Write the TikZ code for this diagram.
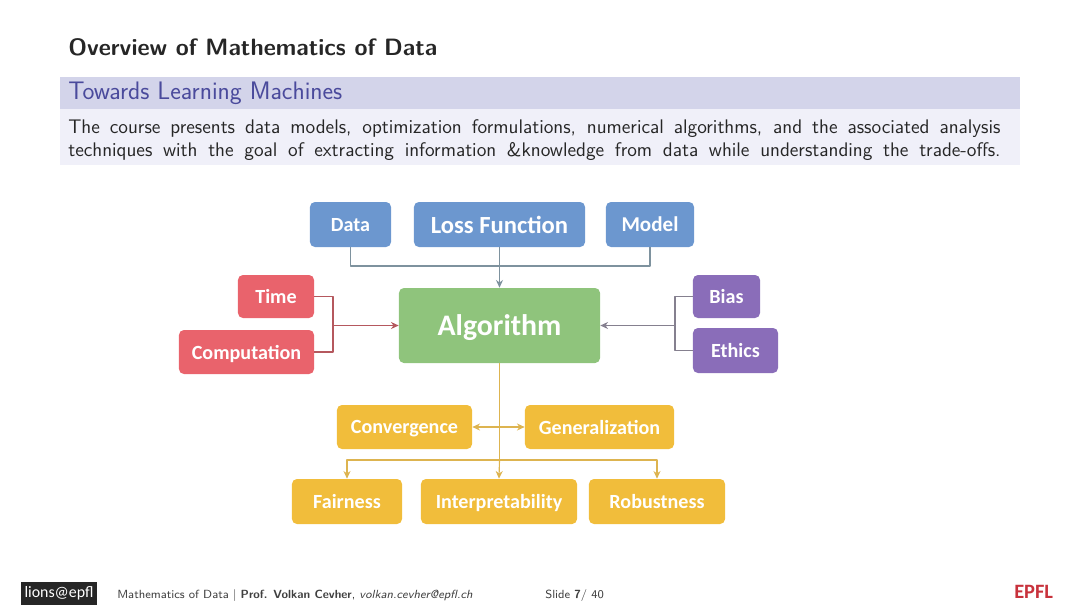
\documentclass[tikz,border=0pt]{standalone}
\usepackage{fontspec}
\usepackage{xcolor}
\usepackage{tikz}
\usetikzlibrary{arrows.meta}
\newfontfamily\boxfont{Carlito}
\definecolor{lossblue}{HTML}{6C97CF}
\definecolor{algogreen}{HTML}{8FC47C}
\definecolor{timered}{HTML}{E9636C}
\definecolor{biaspurple}{HTML}{8A6DB9}
\definecolor{goalorange}{HTML}{F1BD3B}
\definecolor{bandtop}{HTML}{D3D4EA}
\definecolor{bandbody}{HTML}{F0F0F9}
\definecolor{bandtext}{HTML}{4A4A9C}
\definecolor{lineblue}{HTML}{7E929E}
\definecolor{linered}{HTML}{B5585E}
\definecolor{linegray}{HTML}{85808F}
\definecolor{lineorange}{HTML}{DDB450}
\definecolor{epflred}{HTML}{C8323C}
\tikzset{
    tile/.style={rounded corners=3.5pt, text=white, inner sep=0pt, text depth=0pt, font=\boxfont\bfseries\fontsize{14.3}{16}\selectfont},
    datatile/.style={tile, fill=lossblue},
    timetile/.style={tile, fill=timered},
    biastile/.style={tile, fill=biaspurple},
    goaltile/.style={tile, fill=goalorange},
    wire/.style={line width=0.8pt, line join=round},
    slidetext/.style={anchor=base west, inner sep=0pt, text=black!85},
}
\begin{document}
\begin{tikzpicture}[x=0.025cm, y=-0.025cm, >={Stealth[length=5.5pt, width=5pt]}]
    \useasboundingbox (0, 0) rectangle (1080, 608);
    \fill[bandtop]  (60, 77)  rectangle (1020, 109);
    \fill[bandbody] (60, 109) rectangle (1020, 165);

    \node[slidetext, font=\sffamily\bfseries\fontsize{16.8}{20}\selectfont] (title) at (68, 55) {Overview of Mathematics of Data};
    \node[slidetext, text=bandtext, font=\sffamily\fontsize{18}{21}\selectfont] (band) at (68, 99.5) {Towards Learning Machines};
    \node[slidetext, font=\sffamily\fontsize{14}{17}\selectfont] (lineone) at (68, 133) {\makebox[23.3cm][s]{The course presents data models, optimization formulations, numerical algorithms, and the associated analysis}};
    \node[slidetext, font=\sffamily\fontsize{14}{17}\selectfont] (linetwo) at (68, 156) {\makebox[23.3cm][s]{techniques with the goal of extracting information \&knowledge from data while understanding the trade-offs.}};

    \node[datatile, minimum width=2.025cm, minimum height=1.125cm] (data) at (350.5, 224.5) {Data};
    \node[datatile, minimum width=4.275cm, minimum height=1.125cm, font=\boxfont\bfseries\fontsize{17.5}{20}\selectfont] (loss) at (499.5, 224.5) {Loss Function};
    \node[datatile, minimum width=2.2cm, minimum height=1.125cm, font=\boxfont\bfseries\fontsize{15}{18}\selectfont] (model) at (650, 224.5) {Model};
    \node[tile, fill=algogreen, minimum width=5.025cm, minimum height=1.875cm, font=\boxfont\bfseries\fontsize{21.2}{25}\selectfont] (algorithm) at (499.5, 325.5) {Algorithm};

    \node[timetile, minimum width=1.9cm, minimum height=1.075cm] (time) at (276, 296.5) {Time};
    \node[timetile, minimum width=3.375cm, minimum height=1.1cm] (computation) at (246.5, 352) {Computation};
    \node[biastile, minimum width=1.675cm, minimum height=1.075cm] (bias) at (726.5, 296.5) {Bias};
    \node[biastile, minimum width=2.125cm, minimum height=1.125cm] (ethics) at (735.5, 350.5) {Ethics};

    \node[goaltile, minimum width=3.375cm, minimum height=1.1cm] (convergence) at (404.5, 427) {Convergence};
    \node[goaltile, minimum width=3.725cm, minimum height=1.1cm] (generalization) at (599.5, 427) {Generalization};
    \node[goaltile, minimum width=2.75cm, minimum height=1.125cm] (fairness) at (347, 501.5) {Fairness};
    \node[goaltile, minimum width=3.9cm, minimum height=1.125cm] (interpretability) at (499, 501.5) {Interpretability};
    \node[goaltile, minimum width=3.4cm, minimum height=1.125cm] (robustness) at (657, 501.5) {Robustness};

    \coordinate (toprail) at (499.5, 266);
    \coordinate (leftjoin) at (333, 325.5);
    \coordinate (rightjoin) at (675, 325.5);
    \coordinate (midjoin) at (499.5, 427);
    \coordinate (lowjoin) at (499.5, 460);

    \draw[wire, lineblue] (data.south) |- (toprail);
    \draw[wire, lineblue] (model.south) |- (toprail);
    \draw[wire, lineblue, ->] (loss.south) -- (algorithm.north);

    \draw[wire, linered] (time.east) -| (leftjoin);
    \draw[wire, linered] (computation.east) -| (leftjoin);
    \draw[wire, linered, ->] (leftjoin) -- (algorithm.west);

    \draw[wire, linegray] (bias.west) -| (rightjoin);
    \draw[wire, linegray] (ethics.west) -| (rightjoin);
    \draw[wire, linegray, ->] (rightjoin) -- (algorithm.east);

    \draw[wire, lineorange] (algorithm.south) -- (lowjoin);
    \draw[wire, lineorange, ->] (midjoin) -- (convergence.east);
    \draw[wire, lineorange, ->] (midjoin) -- (generalization.west);
    \draw[wire, lineorange, ->] (lowjoin) -| (fairness.north);
    \draw[wire, lineorange, ->] (lowjoin) -- (interpretability.north);
    \draw[wire, lineorange, ->] (lowjoin) -| (robustness.north);

    \node[fill=black!85, text=white, minimum width=1.9cm, minimum height=0.575cm, inner sep=0pt, font=\boxfont\fontsize{11.3}{13}\selectfont] (logo) at (59, 593.5) {lions@epfl};
    \node[slidetext, text=black!75, font=\sffamily\fontsize{8.4}{10}\selectfont] (footer) at (117, 598) {Mathematics of Data | \textbf{Prof. Volkan Cevher}, \textit{volkan.cevher@epfl.ch}};
    \node[slidetext, text=black!75, font=\sffamily\fontsize{8.4}{10}\selectfont] (slide) at (545, 598) {Slide \textbf{7}/ 40};
    \node[slidetext, text=epflred, font=\boxfont\bfseries\fontsize{14.5}{17}\selectfont] (epfl) at (1014, 598.5) {EPFL};
\end{tikzpicture}
\end{document}
